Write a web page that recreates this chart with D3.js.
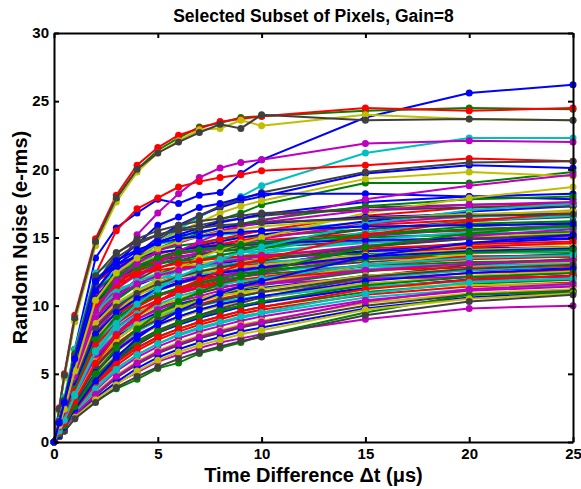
<!DOCTYPE html>
<html>
<head>
<meta charset="utf-8">
<script src="https://cdn.jsdelivr.net/npm/d3@7"></script>
<style>
  body { margin: 0; background: #fff; }
  svg { font-family: "Liberation Sans", Arial, sans-serif; }
  .axis text { font-size: 15px; font-weight: bold; fill: #000; }
  .axis path, .axis line { stroke: #000; stroke-width: 2; }
</style>
</head>
<body>
<div class="canvas"></div>
<script>
// time steps (us)
const timeSteps = [0, 0.25, 0.5, 1, 2, 3, 4, 5, 6, 7, 8, 9, 10, 15, 20, 25];

const xTicks = [0, 5, 10, 15, 20, 25];
const yTicks = [0, 5, 10, 15, 20, 25, 30];

// random noise (e-rms) of each selected pixel, one row per pixel
const pixelNoise = [
  [0, 1.5, 3.0, 6.8, 13.5, 15.7, 16.8, 17.8, 17.5, 18.1, 18.3, 19.7, 20.7, 23.8, 25.6, 26.2],
  [0, 2.4, 4.8, 9.0, 14.6, 17.8, 20.0, 21.4, 22.3, 23.1, 23.4, 23.8, 23.9, 24.3, 24.5, 24.4],
  [0, 2.5, 5.0, 9.3, 14.9, 18.1, 20.3, 21.6, 22.5, 23.0, 23.5, 23.7, 23.9, 24.5, 24.3, 24.5],
  [0, 1.0, 2.1, 4.5, 9.0, 11.5, 13.2, 14.6, 15.6, 16.5, 17.3, 18.0, 18.8, 21.2, 22.3, 22.3],
  [0, 0.8, 1.8, 4.0, 8.5, 12.3, 15.2, 16.8, 18.2, 19.4, 20.1, 20.5, 20.7, 21.9, 22.1, 22.0],
  [0, 2.3, 4.7, 8.8, 14.4, 17.6, 19.8, 21.2, 22.1, 22.9, 23.0, 23.6, 23.2, 24.0, 23.7, 23.6],
  [0, 2.4, 4.9, 9.1, 14.7, 17.9, 20.0, 21.2, 22.0, 22.7, 23.3, 23.0, 24.0, 23.6, 23.7, 23.6],
  [0, 1.1, 2.3, 4.9, 9.8, 12.3, 13.8, 15.0, 15.9, 16.6, 17.2, 17.7, 18.0, 19.7, 20.3, 20.1],
  [0, 1.0, 2.0, 4.4, 9.0, 11.4, 12.9, 14.0, 14.9, 15.6, 16.3, 16.8, 17.4, 19.0, 19.0, 19.8],
  [0, 1.2, 2.5, 5.5, 12.3, 15.5, 17.1, 17.9, 18.7, 19.1, 19.4, 19.6, 19.9, 20.3, 20.8, 20.6],
  [0, 1.6, 3.3, 6.8, 12.4, 13.4, 14.0, 14.5, 14.8, 15.0, 15.2, 15.3, 15.5, 16.1, 16.5, 16.8],
  [0, 0.4, 0.8, 1.8, 3.2, 4.3, 5.1, 5.9, 6.4, 6.9, 7.3, 7.6, 7.9, 9.0, 9.8, 10.0],
  [0, 1.0, 2.1, 4.6, 9.4, 11.9, 13.5, 14.6, 15.4, 16.1, 16.8, 17.3, 17.7, 19.3, 19.8, 19.5],
  [0, 1.1, 2.2, 4.8, 9.5, 12.0, 13.6, 14.8, 15.8, 16.6, 17.3, 17.8, 18.3, 19.8, 20.5, 20.6],
  [0, 1.3, 2.6, 5.6, 11.0, 13.2, 14.5, 15.9, 16.5, 17.2, 17.5, 17.9, 18.2, 18.2, 18.0, 17.8],
  [0, 1.5, 3.1, 6.5, 12.0, 13.1, 13.6, 14.1, 14.4, 14.6, 14.9, 15.0, 15.1, 15.6, 16.0, 16.2],
  [0, 1.5, 3.0, 6.3, 11.7, 12.8, 13.4, 13.8, 14.1, 14.3, 14.5, 14.6, 14.8, 15.3, 15.5, 15.7],
  [0, 1.4, 2.9, 6.0, 11.3, 12.6, 13.2, 13.6, 13.9, 14.2, 14.4, 14.5, 14.7, 15.0, 15.3, 15.4],
  [0, 1.4, 2.8, 5.9, 11.0, 12.4, 13.0, 13.5, 13.8, 14.0, 14.2, 14.4, 14.5, 15.1, 15.6, 15.9],
  [0, 1.3, 2.7, 5.7, 10.7, 12.2, 13.0, 13.6, 14.0, 14.4, 14.7, 15.0, 15.2, 16.0, 16.6, 17.0],
  [0, 1.3, 2.6, 5.5, 10.4, 12.0, 12.8, 13.3, 13.6, 13.8, 14.0, 14.1, 14.3, 14.7, 15.0, 15.1],
  [0, 1.3, 2.6, 5.4, 10.2, 11.9, 12.9, 13.5, 14.0, 14.4, 14.7, 15.0, 15.2, 16.2, 16.9, 17.3],
  [0, 1.2, 2.5, 5.3, 10.0, 11.7, 12.5, 13.1, 13.5, 13.8, 14.0, 14.2, 14.4, 15.0, 15.2, 15.4],
  [0, 1.2, 2.4, 5.1, 9.8, 11.6, 12.6, 13.3, 13.8, 14.2, 14.5, 14.8, 15.0, 15.9, 16.3, 16.6],
  [0, 1.2, 2.4, 5.0, 9.6, 11.3, 12.2, 12.8, 13.2, 13.5, 13.7, 13.9, 14.0, 14.6, 14.9, 15.0],
  [0, 1.1, 2.3, 4.9, 9.4, 11.2, 12.3, 13.0, 13.5, 13.9, 14.3, 14.6, 14.9, 16.0, 16.6, 16.9],
  [0, 1.1, 2.3, 4.8, 9.2, 10.9, 11.8, 12.4, 12.8, 13.1, 13.3, 13.5, 13.6, 14.1, 14.4, 14.5],
  [0, 1.1, 2.2, 4.7, 9.0, 10.8, 11.9, 12.7, 13.3, 13.7, 14.1, 14.4, 14.6, 15.6, 16.2, 16.5],
  [0, 1.1, 2.2, 4.6, 8.8, 10.5, 11.5, 12.1, 12.6, 12.9, 13.1, 13.3, 13.4, 14.0, 14.2, 14.3],
  [0, 1.0, 2.1, 4.5, 8.6, 10.4, 11.5, 12.3, 12.9, 13.3, 13.7, 14.0, 14.2, 15.2, 15.8, 16.1],
  [0, 1.0, 2.1, 4.4, 8.4, 10.1, 11.1, 11.7, 12.2, 12.5, 12.8, 13.0, 13.1, 13.7, 14.0, 14.1],
  [0, 1.0, 2.0, 4.3, 8.2, 10.0, 11.1, 11.9, 12.5, 12.9, 13.3, 13.6, 13.8, 14.8, 15.4, 15.7],
  [0, 1.0, 2.0, 4.2, 8.0, 9.8, 10.8, 11.4, 11.9, 12.2, 12.5, 12.7, 12.8, 13.4, 13.6, 13.7],
  [0, 0.9, 1.9, 4.1, 7.8, 9.6, 10.7, 11.5, 12.1, 12.5, 12.9, 13.2, 13.4, 14.4, 15.0, 15.3],
  [0, 0.9, 1.9, 4.0, 7.6, 9.4, 10.5, 11.1, 11.6, 12.0, 12.2, 12.4, 12.6, 13.2, 13.5, 13.6],
  [0, 0.9, 1.8, 3.9, 7.4, 9.2, 10.3, 11.1, 11.7, 12.1, 12.5, 12.8, 13.0, 14.0, 14.6, 14.9],
  [0, 0.9, 1.8, 3.8, 7.2, 9.0, 10.0, 10.7, 11.2, 11.6, 11.9, 12.1, 12.3, 12.9, 13.2, 13.3],
  [0, 0.9, 1.8, 3.7, 7.0, 8.8, 9.9, 10.7, 11.3, 11.8, 12.2, 12.5, 12.7, 13.7, 14.3, 14.6],
  [0, 0.8, 1.7, 3.6, 6.8, 8.6, 9.7, 10.4, 10.9, 11.3, 11.6, 11.8, 12.0, 12.7, 13.0, 13.1],
  [0, 0.8, 1.7, 3.5, 6.6, 8.4, 9.5, 10.3, 10.9, 11.4, 11.8, 12.1, 12.4, 13.4, 14.0, 14.3],
  [0, 0.8, 1.6, 3.4, 6.4, 8.1, 9.2, 10.0, 10.5, 11.0, 11.3, 11.6, 11.8, 12.6, 13.0, 13.2],
  [0, 0.8, 1.6, 3.3, 6.2, 7.9, 9.0, 9.8, 10.4, 10.9, 11.3, 11.6, 11.9, 12.9, 13.5, 13.8],
  [0, 0.7, 1.5, 3.2, 6.0, 7.7, 8.8, 9.5, 10.1, 10.5, 10.8, 11.1, 11.3, 12.2, 12.6, 12.8],
  [0, 0.7, 1.5, 3.1, 5.8, 7.5, 8.6, 9.4, 10.0, 10.5, 10.9, 11.2, 11.5, 12.5, 13.1, 13.4],
  [0, 0.7, 1.4, 3.0, 5.6, 7.2, 8.3, 9.1, 9.7, 10.1, 10.5, 10.8, 11.0, 11.9, 12.4, 12.6],
  [0, 0.7, 1.4, 2.9, 5.4, 7.0, 8.1, 8.9, 9.5, 10.0, 10.4, 10.7, 11.0, 12.0, 12.6, 12.9],
  [0, 0.6, 1.3, 2.8, 5.2, 6.8, 7.9, 8.6, 9.2, 9.7, 10.1, 10.4, 10.6, 11.6, 12.1, 12.4],
  [0, 0.6, 1.3, 2.7, 5.0, 6.6, 7.7, 8.5, 9.1, 9.6, 10.0, 10.3, 10.6, 11.6, 12.2, 12.5],
  [0, 0.6, 1.2, 2.6, 4.8, 6.3, 7.4, 8.2, 8.8, 9.3, 9.7, 10.0, 10.3, 11.3, 11.9, 12.2],
  [0, 0.6, 1.2, 2.5, 4.6, 6.1, 7.2, 8.0, 8.6, 9.1, 9.5, 9.9, 10.2, 11.3, 11.9, 12.2],
  [0, 0.5, 1.1, 2.4, 4.4, 5.9, 6.9, 7.7, 8.3, 8.8, 9.2, 9.6, 9.9, 11.0, 11.6, 11.9],
  [0, 0.5, 1.1, 2.3, 4.2, 5.6, 6.7, 7.5, 8.1, 8.6, 9.0, 9.4, 9.7, 10.8, 11.4, 11.7],
  [0, 0.5, 1.0, 2.2, 4.0, 5.4, 6.4, 7.2, 7.8, 8.3, 8.7, 9.1, 9.4, 10.6, 11.2, 11.5],
  [0, 0.5, 1.0, 2.1, 3.8, 5.2, 6.2, 7.0, 7.6, 8.1, 8.5, 8.9, 9.2, 10.4, 11.1, 11.4],
  [0, 0.4, 0.9, 2.0, 3.6, 4.9, 5.9, 6.7, 7.3, 7.8, 8.2, 8.6, 8.9, 10.2, 10.9, 11.2],
  [0, 0.4, 0.9, 1.9, 3.4, 4.7, 5.7, 6.5, 7.1, 7.6, 8.0, 8.4, 8.7, 10.0, 10.8, 11.1],
  [0, 0.4, 0.8, 1.8, 3.2, 4.4, 5.4, 6.2, 6.8, 7.3, 7.7, 8.1, 8.4, 9.8, 10.6, 11.0],
  [0, 0.4, 0.8, 1.7, 3.0, 3.9, 4.6, 5.4, 5.8, 6.5, 6.9, 7.3, 7.8, 9.5, 10.8, 11.0],
  [0, 1.3, 2.7, 5.6, 10.8, 12.0, 12.4, 12.6, 12.8, 12.9, 13.0, 13.1, 13.2, 13.5, 13.6, 13.6],
  [0, 1.2, 2.5, 5.2, 10.1, 11.2, 11.7, 12.0, 12.2, 12.3, 12.4, 12.5, 12.6, 12.9, 13.0, 13.0],
  [0, 1.0, 2.1, 4.4, 8.6, 9.8, 10.4, 10.8, 11.1, 11.3, 11.4, 11.5, 11.6, 12.0, 12.1, 12.1],
  [0, 0.9, 1.8, 3.9, 7.6, 8.9, 9.6, 10.1, 10.4, 10.6, 10.8, 10.9, 11.0, 11.4, 11.5, 11.6],
  [0, 1.4, 2.8, 5.8, 11.5, 13.5, 14.5, 15.2, 15.6, 15.9, 16.2, 16.4, 16.6, 17.2, 17.4, 17.5],
  [0, 1.3, 2.6, 5.4, 10.5, 12.6, 13.8, 14.6, 15.2, 15.7, 16.1, 16.4, 16.7, 17.6, 18.0, 18.2],
  [0, 1.2, 2.4, 5.0, 9.8, 12.0, 13.3, 14.2, 14.8, 15.3, 15.7, 16.0, 16.3, 17.3, 17.8, 18.0],
  [0, 1.1, 2.2, 4.6, 9.0, 11.2, 12.5, 13.4, 14.0, 14.5, 14.9, 15.2, 15.5, 16.6, 17.2, 17.5],
  [0, 0.8, 1.7, 3.6, 7.0, 9.0, 10.4, 11.4, 12.1, 12.7, 13.2, 13.6, 14.0, 15.4, 16.2, 16.6],
  [0, 0.7, 1.5, 3.2, 6.2, 8.0, 9.3, 10.3, 11.0, 11.6, 12.1, 12.5, 12.8, 14.3, 15.1, 15.6],
  [0, 0.6, 1.3, 2.8, 5.4, 7.0, 8.2, 9.1, 9.8, 10.4, 10.9, 11.3, 11.6, 13.0, 13.8, 14.2],
  [0, 0.5, 1.1, 2.4, 4.6, 6.0, 7.1, 8.0, 8.7, 9.3, 9.8, 10.2, 10.6, 12.1, 13.0, 13.4],
  [0, 1.5, 3.0, 6.2, 11.8, 13.0, 13.6, 13.9, 14.1, 14.3, 14.4, 14.5, 14.6, 14.8, 14.9, 14.9],
  [0, 1.4, 2.9, 6.0, 11.2, 12.3, 12.8, 13.1, 13.3, 13.4, 13.5, 13.6, 13.6, 13.8, 13.9, 13.9],
  [0, 0.9, 1.9, 4.0, 7.9, 9.4, 10.2, 10.8, 11.2, 11.5, 11.7, 11.9, 12.0, 12.6, 12.8, 12.9],
  [0, 0.8, 1.6, 3.4, 6.6, 7.9, 8.7, 9.3, 9.7, 10.0, 10.3, 10.5, 10.7, 11.4, 11.8, 12.0],
  [0, 1.0, 2.0, 4.3, 8.3, 10.5, 12.0, 13.1, 14.0, 14.7, 15.3, 15.8, 16.2, 17.8, 18.8, 19.6],
  [0, 0.9, 1.8, 3.9, 7.5, 9.5, 10.9, 12.0, 12.8, 13.5, 14.1, 14.6, 15.0, 16.8, 17.9, 18.7],
  [0, 1.4, 2.8, 5.9, 11.6, 13.8, 14.9, 15.5, 15.9, 16.2, 16.4, 16.6, 16.8, 17.0, 17.2, 17.3],
  [0, 1.3, 2.7, 5.6, 11.1, 13.0, 14.0, 14.7, 15.1, 15.4, 15.7, 15.9, 16.0, 16.5, 16.7, 16.8],
  [0, 1.2, 2.5, 5.3, 10.3, 12.0, 12.9, 13.5, 13.9, 14.1, 14.3, 14.5, 14.6, 15.2, 15.6, 15.8],
  [0, 1.2, 2.4, 5.1, 10.0, 11.5, 12.3, 12.8, 13.1, 13.3, 13.5, 13.6, 13.7, 14.2, 14.5, 14.7],
  [0, 1.1, 2.3, 4.9, 9.5, 11.0, 11.8, 12.3, 12.6, 12.8, 13.0, 13.1, 13.2, 13.6, 13.9, 14.0],
  [0, 1.1, 2.2, 4.7, 9.1, 10.7, 11.6, 12.2, 12.6, 12.9, 13.2, 13.4, 13.6, 14.4, 14.9, 15.1],
  [0, 1.0, 2.1, 4.5, 8.7, 10.2, 11.1, 11.7, 12.1, 12.4, 12.6, 12.8, 13.0, 13.7, 14.1, 14.3],
  [0, 1.0, 2.0, 4.3, 8.3, 9.9, 10.9, 11.6, 12.1, 12.5, 12.8, 13.1, 13.3, 14.3, 14.9, 15.2],
  [0, 0.9, 1.9, 4.1, 7.9, 9.5, 10.5, 11.2, 11.7, 12.1, 12.4, 12.6, 12.8, 13.6, 14.0, 14.2],
  [0, 0.9, 1.8, 3.9, 7.5, 9.1, 10.1, 10.8, 11.3, 11.7, 12.0, 12.3, 12.5, 13.4, 13.9, 14.1],
  [0, 0.8, 1.7, 3.7, 7.1, 8.7, 9.7, 10.4, 10.9, 11.3, 11.6, 11.9, 12.1, 13.0, 13.4, 13.6],
  [0, 0.8, 1.6, 3.5, 6.7, 8.3, 9.4, 10.1, 10.7, 11.1, 11.5, 11.8, 12.0, 13.0, 13.5, 13.7],
  [0, 0.7, 1.5, 3.3, 6.3, 7.9, 9.0, 9.7, 10.3, 10.7, 11.1, 11.4, 11.6, 12.6, 13.1, 13.3],
  [0, 0.7, 1.4, 3.1, 5.9, 7.5, 8.6, 9.3, 9.9, 10.3, 10.7, 11.0, 11.2, 12.2, 12.7, 13.0],
  [0, 0.6, 1.3, 2.9, 5.5, 7.1, 8.2, 9.0, 9.6, 10.0, 10.4, 10.7, 11.0, 12.1, 12.7, 13.0],
  [0, 0.6, 1.2, 2.7, 5.1, 6.7, 7.8, 8.6, 9.2, 9.7, 10.1, 10.4, 10.7, 11.8, 12.4, 12.7],
  [0, 0.5, 1.1, 2.5, 4.7, 6.2, 7.3, 8.1, 8.7, 9.2, 9.6, 10.0, 10.3, 11.5, 12.1, 12.4],
  [0, 0.5, 1.0, 2.3, 4.3, 5.8, 6.9, 7.7, 8.3, 8.8, 9.2, 9.6, 9.9, 11.2, 11.9, 12.2],
  [0, 0.4, 0.9, 2.1, 3.9, 5.3, 6.4, 7.2, 7.9, 8.4, 8.8, 9.2, 9.5, 10.9, 11.7, 12.0],
  [0, 0.4, 0.9, 2.0, 3.5, 4.8, 5.8, 6.6, 7.2, 7.7, 8.1, 8.5, 8.8, 10.3, 11.2, 11.6],
  [0, 0.4, 0.8, 1.8, 3.1, 4.2, 5.2, 6.0, 6.6, 7.1, 7.5, 7.9, 8.2, 9.7, 10.5, 10.9],
  [0, 0.4, 0.8, 1.7, 2.9, 4.0, 4.8, 5.5, 6.1, 6.6, 7.0, 7.4, 7.7, 9.3, 10.3, 10.8],
  [0, 0.5, 1.1, 2.4, 4.5, 6.2, 7.6, 8.7, 9.6, 10.3, 10.9, 11.4, 11.8, 13.6, 14.6, 15.2],
  [0, 0.6, 1.2, 2.6, 5.0, 6.9, 8.3, 9.4, 10.3, 11.0, 11.6, 12.1, 12.5, 14.3, 15.3, 15.9],
  [0, 0.7, 1.4, 3.0, 5.8, 7.8, 9.2, 10.3, 11.2, 11.9, 12.5, 13.0, 13.4, 15.2, 16.2, 16.8],
  [0, 0.8, 1.6, 3.4, 6.6, 8.7, 10.1, 11.2, 12.1, 12.8, 13.4, 13.9, 14.3, 16.0, 17.0, 17.5],
  [0, 1.1, 2.3, 4.9, 9.6, 11.8, 13.1, 14.0, 14.6, 15.1, 15.5, 15.8, 16.1, 17.0, 17.4, 17.6],
  [0, 1.2, 2.4, 5.2, 10.4, 12.4, 13.5, 14.2, 14.7, 15.1, 15.4, 15.6, 15.8, 16.4, 16.7, 16.9],
  [0, 1.5, 3.0, 6.4, 12.2, 13.9, 14.7, 15.2, 15.5, 15.7, 15.9, 16.0, 16.1, 16.4, 16.6, 16.7],
  [0, 1.4, 2.9, 6.1, 11.8, 13.3, 14.1, 14.6, 14.9, 15.1, 15.3, 15.4, 15.5, 15.8, 15.9, 16.0]
];

// MATLAB style colour order
const colorOrder = ["#0000ff", "#008000", "#ff0000", "#00bfbf", "#bf00bf", "#bfbf00", "#404040"];

const width = 581, height = 489;
const margin = { top: 33, right: 8, bottom: 47, left: 54 };

const svg = d3.select(".canvas")
  .append("svg")
  .attr("width", width)
  .attr("height", height);

const x = d3.scaleLinear().domain([0, 25]).range([margin.left, width - margin.right]);
const y = d3.scaleLinear().domain([0, 30]).range([height - margin.bottom, margin.top]);

// clip so markers on the frame do not spill out too much
svg.append("defs").append("clipPath").attr("id", "plot-clip")
  .append("rect")
  .attr("x", margin.left - 4).attr("y", margin.top - 4)
  .attr("width", width - margin.left - margin.right + 8)
  .attr("height", height - margin.top - margin.bottom + 8);

const series = pixelNoise.map((vals, i) => ({
  color: colorOrder[i % colorOrder.length],
  points: vals.map((v, j) => ({ t: timeSteps[j], v: v }))
}));

const line = d3.line().x(d => x(d.t)).y(d => y(d.v));

const plot = svg.append("g").attr("clip-path", "url(#plot-clip)");

const groups = plot.selectAll("g.pixel")
  .data(series)
  .enter().append("g")
  .attr("class", "pixel");

groups.append("path")
  .attr("d", d => line(d.points))
  .attr("fill", "none")
  .attr("stroke", d => d.color)
  .attr("stroke-width", 2);

groups.selectAll("circle")
  .data(d => d.points.map(p => ({ t: p.t, v: p.v, color: d.color })))
  .enter().append("circle")
  .attr("cx", d => x(d.t))
  .attr("cy", d => y(d.v))
  .attr("r", 3.5)
  .attr("fill", d => d.color);

// Axes (ticks point inward, box on)
svg.append("g")
  .attr("class", "axis")
  .attr("transform", `translate(0,${height - margin.bottom})`)
  .call(d3.axisBottom(x).tickValues(xTicks).tickSizeInner(-5).tickSizeOuter(0).tickPadding(6));

svg.append("g")
  .attr("class", "axis")
  .attr("transform", `translate(0,${margin.top})`)
  .call(d3.axisTop(x).tickValues(xTicks).tickSizeInner(-5).tickSizeOuter(0).tickFormat(""));

svg.append("g")
  .attr("class", "axis")
  .attr("transform", `translate(${margin.left},0)`)
  .call(d3.axisLeft(y).tickValues(yTicks).tickSizeInner(-5).tickSizeOuter(0).tickPadding(5));

svg.append("g")
  .attr("class", "axis")
  .attr("transform", `translate(${width - margin.right},0)`)
  .call(d3.axisRight(y).tickValues(yTicks).tickSizeInner(-5).tickSizeOuter(0).tickFormat(""));

// Title and labels
svg.append("text")
  .attr("x", (margin.left + width - margin.right) / 2)
  .attr("y", 22)
  .attr("text-anchor", "middle")
  .style("font-size", "17.5px")
  .style("font-weight", "bold")
  .text("Selected Subset of Pixels, Gain=8");

svg.append("text")
  .attr("x", (margin.left + width - margin.right) / 2)
  .attr("y", 482)
  .attr("text-anchor", "middle")
  .style("font-size", "20px")
  .style("font-weight", "bold")
  .text("Time Difference \u0394t (\u03bcs)");

svg.append("text")
  .attr("transform", `translate(27,${(margin.top + height - margin.bottom) / 2}) rotate(-90)`)
  .attr("text-anchor", "middle")
  .style("font-size", "20px")
  .style("font-weight", "bold")
  .text("Random Noise (e-rms)");
</script>
</body>
</html>
